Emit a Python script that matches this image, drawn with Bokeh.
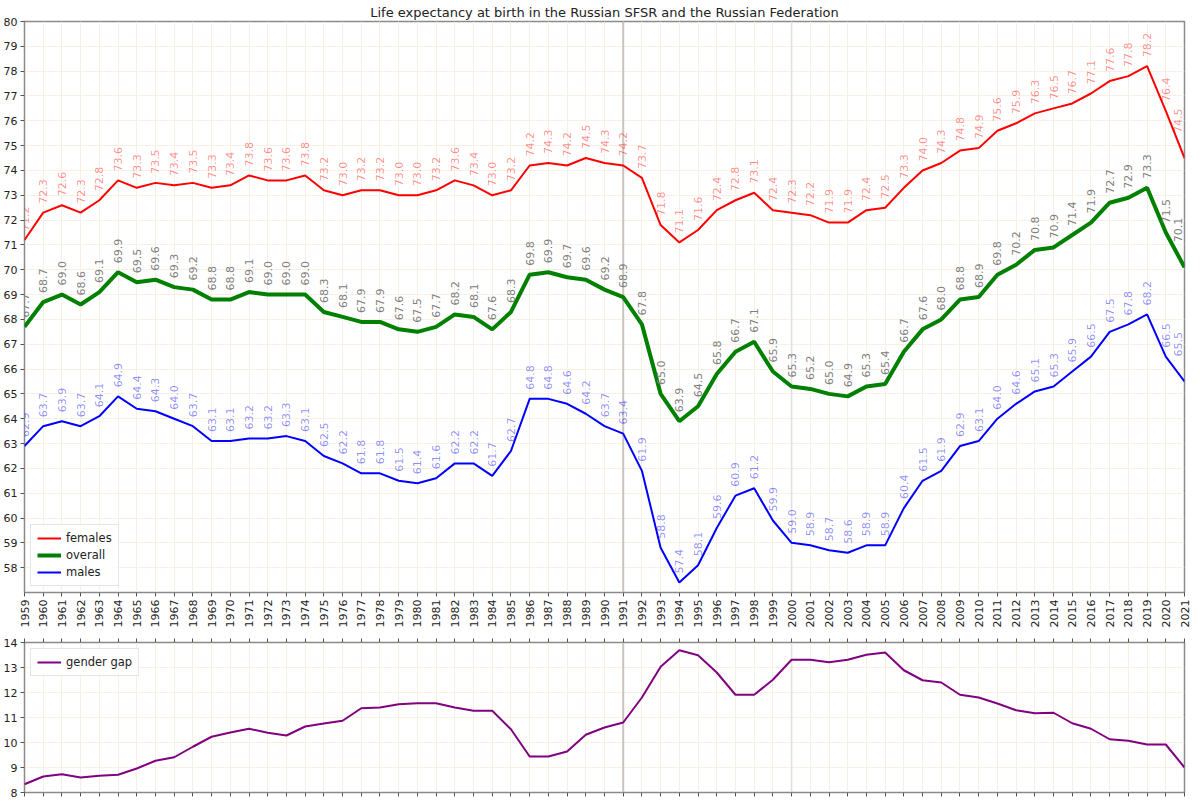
import math
from bokeh.plotting import figure
from bokeh.layouts import column
from bokeh.models import (ColumnDataSource, Range1d, FixedTicker, Span, Legend,
                          LegendItem, LinearAxis)
from bokeh.core.properties import value
from bokeh.embed import file_html
from bokeh.resources import INLINE

# life expectancy at birth, 1959-2021
years = list(range(1959, 2022))
females = [71.2, 72.3, 72.6, 72.3, 72.8, 73.6, 73.3, 73.5, 73.4, 73.5,
           73.3, 73.4, 73.8, 73.6, 73.6, 73.8, 73.2, 73.0, 73.2, 73.2,
           73.0, 73.0, 73.2, 73.6, 73.4, 73.0, 73.2, 74.2, 74.3, 74.2,
           74.5, 74.3, 74.2, 73.7, 71.8, 71.1, 71.6, 72.4, 72.8, 73.1,
           72.4, 72.3, 72.2, 71.9, 71.9, 72.4, 72.5, 73.3, 74.0, 74.3,
           74.8, 74.9, 75.6, 75.9, 76.3, 76.5, 76.7, 77.1, 77.6, 77.8,
           78.2, 76.4, 74.5]
overall = [67.7, 68.7, 69.0, 68.6, 69.1, 69.9, 69.5, 69.6, 69.3, 69.2,
           68.8, 68.8, 69.1, 69.0, 69.0, 69.0, 68.3, 68.1, 67.9, 67.9,
           67.6, 67.5, 67.7, 68.2, 68.1, 67.6, 68.3, 69.8, 69.9, 69.7,
           69.6, 69.2, 68.9, 67.8, 65.0, 63.9, 64.5, 65.8, 66.7, 67.1,
           65.9, 65.3, 65.2, 65.0, 64.9, 65.3, 65.4, 66.7, 67.6, 68.0,
           68.8, 68.9, 69.8, 70.2, 70.8, 70.9, 71.4, 71.9, 72.7, 72.9,
           73.3, 71.5, 70.1]
males = [62.9, 63.7, 63.9, 63.7, 64.1, 64.9, 64.4, 64.3, 64.0, 63.7,
         63.1, 63.1, 63.2, 63.2, 63.3, 63.1, 62.5, 62.2, 61.8, 61.8,
         61.5, 61.4, 61.6, 62.2, 62.2, 61.7, 62.7, 64.8, 64.8, 64.6,
         64.2, 63.7, 63.4, 61.9, 58.8, 57.4, 58.1, 59.6, 60.9, 61.2,
         59.9, 59.0, 58.9, 58.7, 58.6, 58.9, 58.9, 60.4, 61.5, 61.9,
         62.9, 63.1, 64.0, 64.6, 65.1, 65.3, 65.9, 66.5, 67.5, 67.8,
         68.2, 66.5, 65.5]
gender_gap = [8.33, 8.64, 8.73, 8.60, 8.67, 8.71, 8.96, 9.27, 9.41, 9.83,
              10.23, 10.40, 10.55, 10.39, 10.28, 10.64, 10.76, 10.87, 11.37, 11.40,
              11.53, 11.57, 11.57, 11.40, 11.27, 11.27, 10.53, 9.44, 9.44, 9.64,
              10.31, 10.60, 10.80, 11.80, 13.03, 13.69, 13.49, 12.80, 11.91, 11.91,
              12.51, 13.31, 13.31, 13.21, 13.31, 13.51, 13.60, 12.89, 12.49, 12.40,
              11.91, 11.80, 11.56, 11.29, 11.17, 11.19, 10.77, 10.55, 10.13, 10.07,
              9.92, 9.92, 9.00]
markers = [1991, 2000]

FONT = "DejaVu Sans"
GRID = "#f7f0e3"
SPINE = "#8a8a8a"


def style(fig, yticks):
    fig.outline_line_color = SPINE
    fig.outline_line_width = 1.5
    fig.xgrid.ticker = FixedTicker(ticks=years)
    fig.ygrid.ticker = FixedTicker(ticks=yticks)
    fig.grid.grid_line_color = GRID
    fig.grid.grid_line_width = 1
    for ax in fig.axis:
        ax.axis_line_color = None
        ax.major_tick_out = 4
        ax.major_tick_in = 0
        ax.minor_tick_out = 0
        ax.minor_tick_in = 0
        ax.major_tick_line_color = "#555555"
        ax.major_label_text_font = FONT
        ax.major_label_text_font_size = "11px"
        ax.major_label_text_color = "#222222"
        ax.major_label_standoff = 3
    fig.yaxis.ticker = FixedTicker(ticks=yticks)
    for m, c, w in zip(markers, ["#c9c4bf", "#e3dfda"], [2, 1.5]):
        fig.add_layout(Span(location=m, dimension="height", line_color=c,
                            line_width=w, level="underlay"))


def style_legend(lg):
    lg.label_text_font = FONT
    lg.label_text_font_size = "11.5px"
    lg.label_text_color = "#222222"
    lg.glyph_width = 24
    lg.glyph_height = 14
    lg.label_height = 14
    lg.spacing = 3
    lg.padding = 6
    lg.margin = 6
    lg.border_line_color = "#cccccc"
    lg.background_fill_alpha = 0.85


p = figure(width=1190, height=630, x_range=Range1d(1959, 2021), y_range=Range1d(57, 80),
           output_backend="svg", toolbar_location=None,
           title="Life expectancy at birth in the Russian SFSR and the Russian Federation")
p.min_border_top = 0
p.min_border_right = 6
p.min_border_left = 0
p.title.align = "center"
p.title.text_font = FONT
p.title.text_font_size = "13px"
p.title.text_font_style = "normal"
p.title.text_color = "#222222"
p.title.standoff = 4
style(p, list(range(58, 81)))
p.xaxis.ticker = FixedTicker(ticks=years)
p.xaxis.major_label_orientation = math.pi / 2

r_f = p.line(years, females, line_color="red", line_width=2)
r_o = p.line(years, overall, line_color="green", line_width=4)
r_m = p.line(years, males, line_color="blue", line_width=2)

for vals, col, alpha in [(females, "red", 0.45), (overall, "#808080", 1.0), (males, "blue", 0.45)]:
    labels = ["%.1f" % v for v in vals]
    body = ColumnDataSource(dict(x=years[:-1], y=vals[:-1], t=labels[:-1]))
    last = ColumnDataSource(dict(x=years[-1:], y=vals[-1:], t=labels[-1:]))
    for src, dx, dy in [(body, 0, -9), (last, -7, -25)]:
        p.text(x="x", y="y", text="t", source=src, angle=math.pi / 2,
               text_align="left", text_baseline="middle", x_offset=dx, y_offset=dy,
               text_font=value(FONT), text_font_size="11px",
               text_color=col, text_alpha=alpha)

leg = Legend(items=[LegendItem(label="females", renderers=[r_f]),
                    LegendItem(label="overall", renderers=[r_o]),
                    LegendItem(label="males", renderers=[r_m])],
             location="bottom_left")
style_legend(leg)
p.add_layout(leg)

q = figure(width=1190, height=170, x_range=p.x_range, y_range=Range1d(8, 14),
           output_backend="svg", toolbar_location=None)
q.min_border_top = 12
q.min_border_bottom = 8
q.min_border_right = 6
q.min_border_left = 0
q.add_layout(LinearAxis(ticker=FixedTicker(ticks=years)), "above")
style(q, list(range(8, 15)))
q.xaxis.ticker = FixedTicker(ticks=years)
q.xaxis.major_label_overrides = {y: "" for y in years}
q.xaxis.major_label_standoff = 0
r_g = q.line(years, gender_gap, line_color="purple", line_width=2)
leg2 = Legend(items=[LegendItem(label="gender gap", renderers=[r_g])], location="top_left")
style_legend(leg2)
q.add_layout(leg2)

page = column(p, q, spacing=0)
open("out.html", "w").write(file_html(page, INLINE))
